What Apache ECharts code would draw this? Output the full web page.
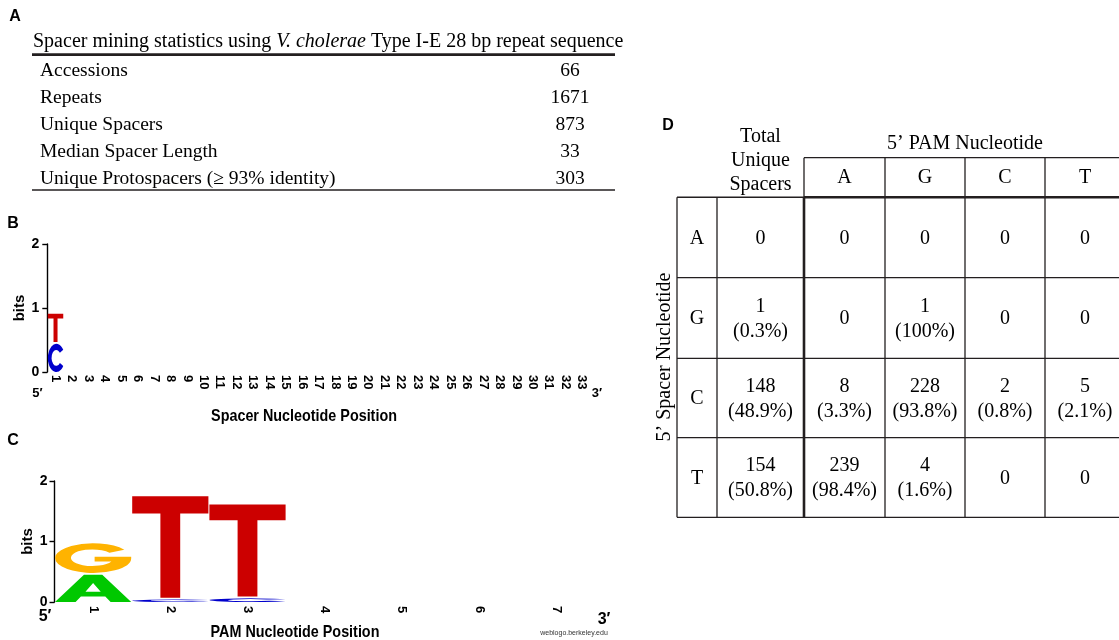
<!DOCTYPE html>
<html><head><meta charset="utf-8">
<style>html,body{margin:0;padding:0;background:#fff}#c{width:1119px;height:640px}</style>
<script src="https://cdn.jsdelivr.net/npm/echarts@6.0.0/dist/echarts.min.js"></script>
</head><body><div id="c"></div>
<script>
// ---------------- data ----------------
const statTitle = 'Spacer mining statistics using {i|V. cholerae} Type I-E 28 bp repeat sequence';
const statLabels = ['Accessions', 'Repeats', 'Unique Spacers', 'Median Spacer Length', 'Unique Protospacers (\u2265 93% identity)'];
const statValues = [66, 1671, 873, 33, 303];

const bitTicks = [0, 1, 2];
const spacerTicks = ['1','2','3','4','5','6','7','8','9','10','11','12','13','14','15','16','17','18','19','20','21','22','23','24','25','26','27','28','29','30','31','32','33'];
const spacerLogoPos = [1, 1];
const spacerLogoNt = ['C', 'T'];
const spacerLogoBits = [0.44, 0.47];

const pamTicks = ['1','2','3','4','5','6','7'];
const pamLogoPos = [1, 1, 2, 2, 3, 3];
const pamLogoNt = ['A', 'G', 'C', 'T', 'C', 'T'];
const pamLogoBits = [0.45, 0.52, 0.04, 1.71, 0.06, 1.55];

const pamNts = ['A', 'G', 'C', 'T'];
const spacerNts = ['A', 'G', 'C', 'T'];
const totalCounts = [0, 1, 148, 154];
const totalPcts = [null, 0.3, 48.9, 50.8];
const pamCounts = [[0, 0, 0, 0], [0, 1, 0, 0], [8, 228, 2, 5], [239, 4, 0, 0]];
const pamPcts = [[null, null, null, null], [null, 100, null, null], [3.3, 93.8, 0.8, 2.1], [98.4, 1.6, null, null]];

// ---------------- styles ----------------
const SANS = "'Liberation Sans', Arial, Helvetica, sans-serif";
const SERIF = "'Liberation Serif', 'Times New Roman', serif";
const INK = '#231f20';
const NT_COLOR = { A: '#00c800', C: '#0000cc', G: '#ffb300', T: '#cc0000' };
const GLYPH = {
  T: 'M0 0H100V17H63V100H37V17H0Z',
  A: 'M0 100L38 0H62L100 100H73L66 80H34L27 100Z M40 62L60 62L50 30Z',
  C: 'M91 21.3A50 50 0 1 0 91 78.7L71.5 68A28 28 0 1 1 71.5 32Z',
  G: 'M91 21.3A50 50 0 1 0 100 50V45H52V61H74A28 28 0 1 1 71.5 32Z'
};
const GAP = 0.03;

function stackLetters(pos, nt, bits) {
  const cum = {}; const out = [];
  for (let i = 0; i < pos.length; i++) {
    const p = pos[i]; const base = cum[p] || 0;
    const y0 = base + (base > 0 ? GAP : 0);
    const y1 = base + bits[i];
    cum[p] = y1;
    out.push({ value: [p - 1, y0, y1], nt: nt[i] });
  }
  return out;
}
const spacerStack = stackLetters(spacerLogoPos, spacerLogoNt, spacerLogoBits);
const pamStack = stackLetters(pamLogoPos, pamLogoNt, pamLogoBits);

function letterRenderer(stack) {
  return function (params, api) {
    const item = stack[params.dataIndex];
    const top = api.coord([api.value(0), api.value(2)]);
    const bot = api.coord([api.value(0), api.value(1)]);
    const w = api.size([1, 0])[0];
    return {
      type: 'path',
      shape: { pathData: GLYPH[item.nt], x: top[0] - w / 2 + 0.5, y: top[1], width: w - 1, height: Math.max(bot[1] - top[1], 0.5), layout: 'cover' },
      style: { fill: NT_COLOR[item.nt] }
    };
  };
}

function yAxisCfg(gridIndex, gap, margin) {
  return {
    type: 'value', gridIndex: gridIndex, min: bitTicks[0], max: bitTicks[bitTicks.length - 1], interval: 1,
    name: 'bits', nameLocation: 'middle', nameGap: gap,
    nameTextStyle: { fontFamily: SANS, fontWeight: 'bold', fontSize: 15, color: '#000' },
    axisLine: { show: true, lineStyle: { color: '#000', width: 1.4 } },
    axisTick: { show: true, length: 5, lineStyle: { color: '#000', width: 1.4 } },
    axisLabel: { fontFamily: SANS, fontWeight: 'bold', fontSize: 14, color: '#000', margin: margin },
    splitLine: { show: false }
  };
}
function xAxisCfg(gridIndex, ticks, size, margin) {
  return {
    type: 'category', gridIndex: gridIndex, data: ticks, boundaryGap: true,
    axisLine: { show: false }, axisTick: { show: false }, splitLine: { show: false },
    axisLabel: { rotate: -90, interval: 0, fontFamily: SANS, fontWeight: 'bold', fontSize: size, color: '#000', margin: margin }
  };
}

// ---------------- graphics: tables & labels ----------------
const G = [];
function txt(x, y, text, o) {
  o = o || {};
  const el = {
    type: 'text', x: x, y: y, silent: true,
    style: {
      text: text, x: 0, y: 0,
      fontFamily: o.family || SERIF, fontSize: o.size || 20, fontWeight: o.weight || 'normal',
      fill: o.color || '#000',
      align: o.align || 'center', textAlign: o.align || 'center',
      verticalAlign: 'middle', textVerticalAlign: 'middle'
    }
  };
  if (o.lineHeight) el.style.lineHeight = o.lineHeight;
  if (o.rich) el.style.rich = o.rich;
  if (o.rotation) el.rotation = o.rotation;
  if (o.scaleX) el.scaleX = o.scaleX;
  G.push(el);
}
function line(x1, y1, x2, y2, w) {
  G.push({ type: 'line', silent: true, shape: { x1: x1, y1: y1, x2: x2, y2: y2 }, style: { stroke: INK, lineWidth: w || 1.3 } });
}

// panel letters
txt(15, 17, 'A', { family: SANS, weight: 'bold', size: 16 });
txt(13, 224, 'B', { family: SANS, weight: 'bold', size: 16 });
txt(13, 441, 'C', { family: SANS, weight: 'bold', size: 16 });
txt(668, 126, 'D', { family: SANS, weight: 'bold', size: 16 });

// table A
txt(33, 41.5, statTitle, { align: 'left', size: 20, rich: { i: { fontStyle: 'italic', fontFamily: SERIF, fontSize: 20, fill: '#000' } } });
line(32, 54.7, 615, 54.7, 2.7);
statLabels.forEach(function (lab, i) {
  const y = 71 + 26.9 * i;
  txt(40, y, lab, { align: 'left', size: 19.5 });
  txt(570, y, String(statValues[i]), { size: 19.5 });
});
line(32, 190, 615, 190, 1.5);

// panel B / C extras
txt(37.5, 393.5, '5\u2032', { family: SANS, weight: 'bold', size: 13 });
txt(597, 393.5, '3\u2032', { family: SANS, weight: 'bold', size: 13 });
txt(304, 416.5, 'Spacer Nucleotide Position', { family: SANS, weight: 'bold', size: 16.5, scaleX: 0.87 });
txt(45, 617, '5\u2032', { family: SANS, weight: 'bold', size: 16 });
txt(604, 620, '3\u2032', { family: SANS, weight: 'bold', size: 16 });
txt(295, 632, 'PAM Nucleotide Position', { family: SANS, weight: 'bold', size: 16.5, scaleX: 0.87 });
txt(574, 633, 'weblogo.berkeley.edu', { family: SANS, size: 7, color: '#333' });

// table D
const colX = [677, 717, 804, 885, 965, 1045, 1125];
const rowY = [197.3, 277.7, 358.3, 437.7, 517.3];
const headTop = 157.7;
txt(760.5, 160.3, 'Total\nUnique\nSpacers', { size: 20, lineHeight: 24 });
txt(965, 144, '5\u2019 PAM Nucleotide', { size: 20 });
txt(665, 357, '5\u2019 Spacer Nucleotide', { size: 20, rotation: Math.PI / 2 });
pamNts.forEach(function (n, j) {
  txt((colX[j + 2] + colX[j + 3]) / 2, (headTop + rowY[0]) / 2 + 0.5, n, { size: 20 });
});
function pctStr(v) { return v === 100 ? '100%' : v.toFixed(1) + '%'; }
function cell(cx, cy, count, pct) {
  if (pct === null || pct === undefined) txt(cx, cy + 1, String(count), { size: 20 });
  else { txt(cx, cy - 11.5, String(count), { size: 20 }); txt(cx, cy + 13.5, '(' + pctStr(pct) + ')', { size: 20 }); }
}
spacerNts.forEach(function (n, i) {
  const cy = (rowY[i] + rowY[i + 1]) / 2;
  txt((colX[0] + colX[1]) / 2, cy + 1, n, { size: 20 });
  cell((colX[1] + colX[2]) / 2, cy, totalCounts[i], totalPcts[i]);
  for (let j = 0; j < pamNts.length; j++) {
    cell((colX[j + 2] + colX[j + 3]) / 2, cy, pamCounts[i][j], pamPcts[i][j]);
  }
});
// grid lines of D
line(colX[2], headTop, colX[6], headTop, 1.3);
for (let j = 3; j < colX.length; j++) line(colX[j], headTop, colX[j], rowY[4], 1.3);
line(colX[0], rowY[0], colX[2], rowY[0], 1.6);
line(colX[2], rowY[0], colX[6], rowY[0], 2.4);
for (let i = 1; i < rowY.length; i++) line(colX[0], rowY[i], colX[6], rowY[i], 1.3);
line(colX[0], rowY[0], colX[0], rowY[4], 1.3);
line(colX[1], rowY[0], colX[1], rowY[4], 1.3);
line(colX[2], headTop, colX[2], rowY[0], 1.3);
line(colX[2], rowY[0], colX[2], rowY[4], 2.6);

// ---------------- chart ----------------
const chart = echarts.init(document.getElementById('c'), null, { renderer: 'canvas' });
chart.setOption({
  animation: false,
  backgroundColor: '#fff',
  grid: [
    { left: 47.3, top: 244, width: 16.45 * 33, height: 128, containLabel: false, outerBoundsMode: 'none' },
    { left: 54.5, top: 481, width: 77.2 * 7, height: 121, containLabel: false, outerBoundsMode: 'none' }
  ],
  xAxis: [xAxisCfg(0, spacerTicks, 13, 3), xAxisCfg(1, pamTicks, 13, 4)],
  yAxis: [yAxisCfg(0, 17, 8), yAxisCfg(1, 14, 7)],
  series: [
    { type: 'custom', xAxisIndex: 0, yAxisIndex: 0, data: spacerStack.map(function (d) { return d.value; }),
      encode: { x: 0, y: [1, 2] }, renderItem: letterRenderer(spacerStack), clip: false },
    { type: 'custom', xAxisIndex: 1, yAxisIndex: 1, data: pamStack.map(function (d) { return d.value; }),
      encode: { x: 0, y: [1, 2] }, renderItem: letterRenderer(pamStack), clip: false }
  ],
  graphic: { elements: G }
});
</script>
</body></html>
